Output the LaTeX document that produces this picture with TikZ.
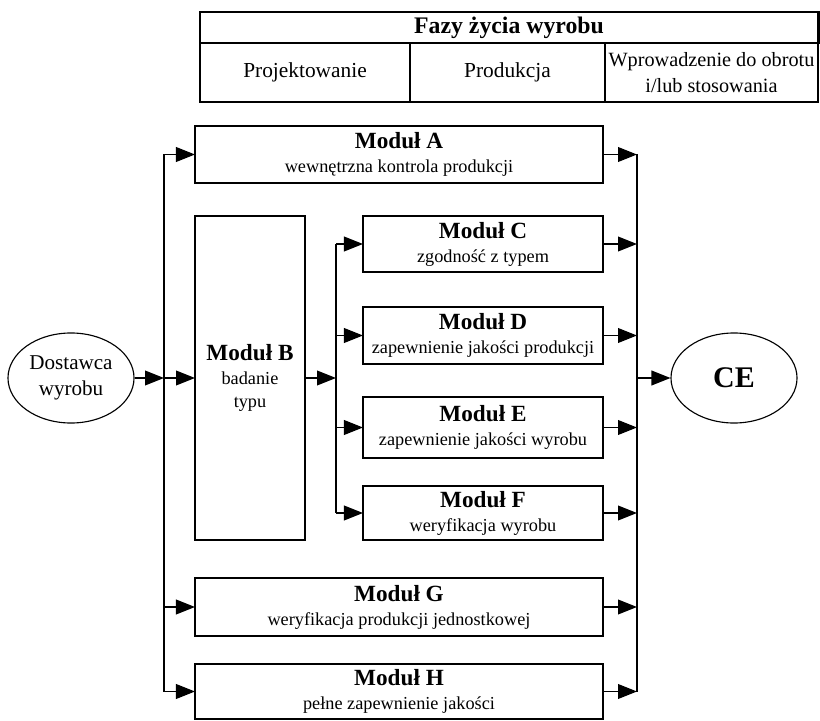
\documentclass[tikz,border=0pt]{standalone}
\usepackage{fontspec}
\setmainfont{Liberation Serif}
\usetikzlibrary{arrows.meta,shapes.geometric}

\newcommand{\modname}[1]{{\fontsize{16.5}{17}\selectfont\bfseries #1}}

\begin{document}
\begin{tikzpicture}[x=0.025cm,y=-0.025cm,>={Triangle[length=13.5pt,width=10.5pt]}]

          \useasboundingbox (0,0) rectangle (820,721);

          % fazy zycia wyrobu
          \begin{scope}[every node/.style={draw, line width=2pt, inner sep=0pt, outer sep=0pt, align=center, font=\fontsize{15.2}{18.5}\selectfont}]
            \node[minimum width=15.45cm, minimum height=0.775cm, font=\fontsize{16.9}{18}\selectfont\bfseries] (faza) at (509,27.5) {Fazy życia wyrobu};
            \node[minimum width=5.25cm, minimum height=1.475cm] (proj) at (305,72.5) {Projektowanie};
            \node[minimum width=4.875cm, minimum height=1.475cm] (prod) at (507.5,72.5) {Produkcja};
            \node[minimum width=5.325cm, minimum height=1.475cm, font=\fontsize{14.4}{18.5}\selectfont] (obrot) at (711.5,72.5) {Wprowadzenie do obrotu\\i/lub stosowania};
          \end{scope}

          % moduly
          \begin{scope}[every node/.style={draw, line width=2pt, inner sep=0pt, outer sep=0pt, align=center, font=\fontsize{13}{17}\selectfont}]
            \node[minimum width=10.2cm, minimum height=1.425cm] (A) at (399,154.5) {\modname{Moduł A}\\wewnętrzna kontrola produkcji};
            \node[minimum width=2.75cm, minimum height=8.1cm] (B) at (250,378) {\modname{Moduł B}\\badanie\\typu};
            \node[minimum width=6cm, minimum height=1.4cm] (C) at (483,244) {\modname{Moduł C}\\zgodność z typem};
            \node[minimum width=6cm, minimum height=1.425cm] (D) at (483,335.5) {\modname{Moduł D}\\zapewnienie jakości produkcji};
            \node[minimum width=6cm, minimum height=1.525cm] (E) at (483,427.5) {\modname{Moduł E}\\zapewnienie jakości wyrobu};
            \node[minimum width=6cm, minimum height=1.35cm] (F) at (483,513) {\modname{Moduł F}\\weryfikacja wyrobu};
            \node[minimum width=10.2cm, minimum height=1.45cm] (G) at (399,607) {\modname{Moduł G}\\weryfikacja produkcji jednostkowej};
            \node[minimum width=10.2cm, minimum height=1.375cm] (H) at (399,691.5) {\modname{Moduł H}\\pełne zapewnienie jakości};
          \end{scope}

          \begin{scope}[every node/.style={ellipse, draw, line width=0.8pt, minimum width=3.15cm, minimum height=2.25cm, inner sep=0pt, align=center}]
            \node[font=\fontsize{15}{19}\selectfont] (dost) at (71,378) {Dostawca\\wyrobu};
            \node[font=\fontsize{21.3}{22}\selectfont\bfseries] (ce) at (734,378) {CE};
          \end{scope}

          \coordinate (lbus) at (164,378);
          \coordinate (mbus) at (336,378);
          \coordinate (rbus) at (637,378);

          \begin{scope}[line width=1pt]
            \draw (lbus |- A.west) -- (lbus |- H.west);
            \draw (mbus |- C.west) -- (mbus |- F.west);
            \draw (rbus |- A.east) -- (rbus |- H.east);

            \begin{scope}[every edge/.style={draw, ->}]
              \path (dost) edge (lbus);
              \path (lbus |- A.west) edge (A);
              \path (lbus) edge (B);
              \path (lbus |- G.west) edge (G);
              \path (lbus |- H.west) edge (H);
              \path (B) edge (mbus);
              \path (mbus |- C.west) edge (C);
              \path (mbus |- D.west) edge (D);
              \path (mbus |- E.west) edge (E);
              \path (mbus |- F.west) edge (F);
              \path (A) edge (rbus |- A.east);
              \path (C) edge (rbus |- C.east);
              \path (D) edge (rbus |- D.east);
              \path (E) edge (rbus |- E.east);
              \path (F) edge (rbus |- F.east);
              \path (G) edge (rbus |- G.east);
              \path (H) edge (rbus |- H.east);
              \path (rbus) edge (ce);
            \end{scope}
          \end{scope}

        \end{tikzpicture}
\end{document}
